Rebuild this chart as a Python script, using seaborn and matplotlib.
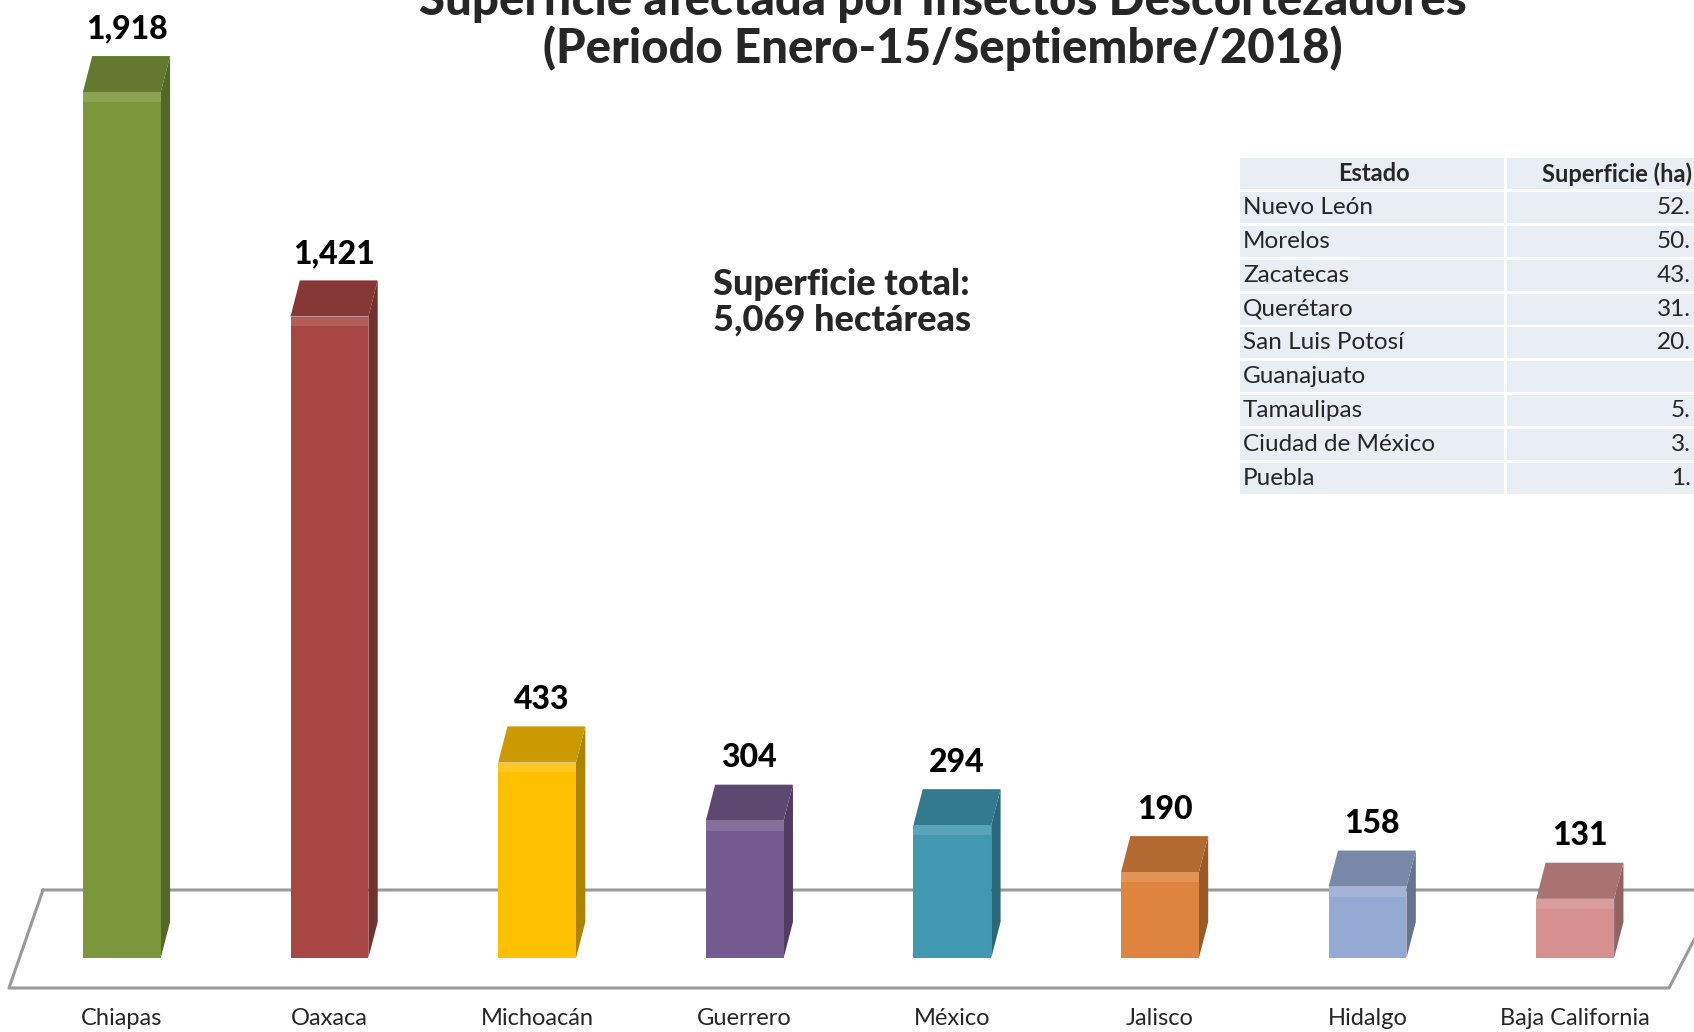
import numpy as np
import pandas as pd
import matplotlib.pyplot as plt
import seaborn as sns
from matplotlib.patches import Polygon, Rectangle
from matplotlib.colors import to_rgb

# data
estados = ['Chiapas', 'Oaxaca', 'Michoacán', 'Guerrero', 'México',
           'Jalisco', 'Hidalgo', 'Baja California']
superficie = [1918, 1421, 433, 304, 294, 190, 158, 131]
colores = ['#7B973B', '#A84643', '#FFC000', '#745A8E',
           '#4198B1', '#DE843F', '#95AAD3', '#D59090']

tabla_estados = ['Nuevo León', 'Morelos', 'Zacatecas', 'Querétaro',
                 'San Luis Potosí', 'Guanajuato', 'Tamaulipas',
                 'Ciudad de México', 'Puebla']
tabla_valores = ['52.', '50.', '43.', '31.', '20.', '', '5.', '3.', '1.']

total_txt = 'Superficie total:\n5,069 hectáreas'

sns.set_style('white')
plt.rcParams['font.family'] = ['Lato', 'DejaVu Sans']

W, H = 1694, 1032
fig = plt.figure(figsize=(W / 100, H / 100), dpi=100)

# axes placed so baseline sits on the floor
ax = fig.add_axes([18 / W, (H - 958) / H, 1661 / W, 948 / H])
ax.patch.set_visible(False)

df = pd.DataFrame({'Estado': estados, 'Superficie': superficie})

sns.barplot(
    data=df,
    x='Estado',
    y='Superficie',
    hue='Estado',
    palette=colores,
    legend=False,
    width=0.375,
    saturation=1,
    ax=ax,
    zorder=3
)

ax.set_xlim(-0.5, 7.5)
ax.set_ylim(0, 2100)

def shade(c, f):
    r, g, b = to_rgb(c)
    return (r * f, g * f, b * f)

def tint(c, f):
    r, g, b = to_rgb(c)
    return (r + (1 - r) * f, g + (1 - g) * f, b + (1 - b) * f)

# fake 3d depth for each bar
dx = 0.045
dy = 80
for patch, col, val in zip(ax.patches, colores, superficie):
    x0 = patch.get_x()
    w = patch.get_width()
    h = patch.get_height()
    patch.set_edgecolor('none')
    side = Polygon([(x0 + w, 0), (x0 + w + dx, dy), (x0 + w + dx, h + dy),
                    (x0 + w, h)], closed=True, fc=shade(col, 0.68),
                   ec='none', zorder=2)
    cap = Polygon([(x0, h), (x0 + w, h), (x0 + w + dx, h + dy),
                   (x0 + dx, h + dy)], closed=True, fc=shade(col, 0.8),
                  ec='none', zorder=4)
    glow = Rectangle((x0, h - 22), w, 22, fc=tint(col, 0.12),
                     ec='none', zorder=4)
    ax.add_patch(side)
    ax.add_patch(cap)
    ax.add_patch(glow)
    ax.annotate(
        f'{val:,}',
        xy=(x0 + w / 2 + dx / 2, h + dy),
        xytext=(0, 9),
        textcoords='offset points',
        ha='center',
        va='bottom',
        fontsize=23,
        fontweight='black',
        color='black',
        zorder=6
    )

ax.set_xlabel('')
ax.set_ylabel('')
ax.set_yticks([])
ax.tick_params(axis='x', length=0, pad=36, labelsize=17)
sns.despine(ax=ax, left=True, bottom=True)

# floor platform
floor_x = [43, 1720, 1669, 9, 43]
floor_y = [890, 890, 988, 988, 890]
ax.plot([x / W for x in floor_x], [1 - y / H for y in floor_y],
        transform=fig.transFigure, color='#9A9A9A', lw=2.2,
        zorder=1, clip_on=False)

# title
fig.text(943 / W, 1 - 15 / H,
         'Superficie afectada por Insectos Descortezadores',
         ha='center', va='baseline', fontsize=34, fontweight='black')
fig.text(943 / W, 1 - 63 / H,
         '(Periodo Enero-15/Septiembre/2018)',
         ha='center', va='baseline', fontsize=34, fontweight='black')

fig.text(713 / W, 1 - 302 / H, total_txt, ha='left', va='center',
         fontsize=26, fontweight='black', linespacing=1.1)

# side table
top = 157
rh = 33.8
col1 = (1240, 1507)
col2 = (1507, 1700)
cell_bg = '#E9EDF4'
filas = [('Estado', 'Superficie (ha)')] + list(zip(tabla_estados, tabla_valores))
for i, (est, val) in enumerate(filas):
    y0 = top + i * rh
    for (a, b) in (col1, col2):
        fig.add_artist(Rectangle((a / W, 1 - (y0 + rh - 1.5) / H),
                                 (b - a - 3) / W, (rh - 3) / H,
                                 transform=fig.transFigure, fc=cell_bg,
                                 ec='none', zorder=1))
    yc = 1 - (y0 + rh / 2) / H
    if i == 0:
        fig.text(1374 / W, yc, est, ha='center', va='center',
                 fontsize=17, fontweight='bold', zorder=3)
        fig.text(1692 / W, yc, val, ha='right', va='center',
                 fontsize=17, fontweight='bold', zorder=3)
    else:
        fig.text(1243 / W, yc, est, ha='left', va='center', fontsize=17.5,
                 zorder=3)
        fig.text(1691 / W, yc, val, ha='right', va='center', fontsize=17.5,
                 zorder=3)

fig.savefig('out.png', dpi=100)
